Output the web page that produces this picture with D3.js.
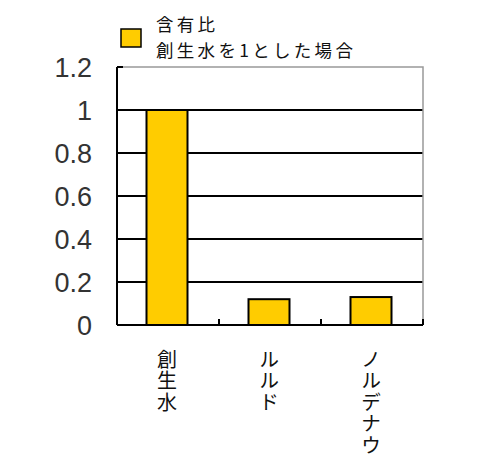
<!DOCTYPE html>
<html>
<head>
<meta charset="utf-8">
<script src="https://cdnjs.cloudflare.com/ajax/libs/d3/7.8.5/d3.min.js"></script>
<style>
  body { margin: 0; background: #fff; }
  svg { display: block; }
</style>
</head>
<body>
<svg width="500" height="473"></svg>
<script>
// data
var categories = ["創生水", "ルルド", "ノルデナウ"];
var values = [1, 0.12, 0.13];
var yTicks = [0, 0.2, 0.4, 0.6, 0.8, 1, 1.2];
var legendLines = ["含有比", "創生水を1とした場合"];

var svg = d3.select("svg");
var plotL = 117, plotR = 423, plotT = 67, plotB = 325;

var x = d3.scaleBand().domain(categories).range([plotL, plotR]).paddingInner(0).paddingOuter(0);
var y = d3.scaleLinear().domain([0, 1.2]).range([plotB, plotT]);

var font = "'Noto Sans CJK JP', 'Liberation Sans', sans-serif";

// gridlines
svg.selectAll("line.grid").data(yTicks.filter(function(d){ return d > 0 && d < 1.2; })).enter()
  .append("line").attr("class","grid")
  .attr("x1", plotL).attr("x2", plotR)
  .attr("y1", function(d){ return y(d); }).attr("y2", function(d){ return y(d); })
  .attr("stroke", "#000").attr("stroke-width", 2);

// gray frame top and right
svg.append("path")
  .attr("d", "M" + plotL + "," + plotT + "H" + plotR + "V" + plotB)
  .attr("fill", "none").attr("stroke", "#999").attr("stroke-width", 1.5);

// bars
var bw = 41;
svg.selectAll("rect.bar").data(values).enter()
  .append("rect").attr("class","bar")
  .attr("x", function(d,i){ return x(categories[i]) + x.bandwidth()/2 - bw/2 - 1; })
  .attr("y", function(d){ return y(d); })
  .attr("width", bw)
  .attr("height", function(d){ return plotB - y(d); })
  .attr("fill", "#FFCC00").attr("stroke", "#000").attr("stroke-width", 2);

// left axis
svg.append("line").attr("x1", plotL).attr("x2", plotL).attr("y1", plotT).attr("y2", plotB)
  .attr("stroke", "#000").attr("stroke-width", 2);
svg.append("line").attr("x1", plotL).attr("x2", plotL + 6).attr("y1", plotT).attr("y2", plotT)
  .attr("stroke", "#000").attr("stroke-width", 2);

// x axis with ticks at band edges
svg.append("line").attr("x1", plotL).attr("x2", plotR).attr("y1", plotB).attr("y2", plotB)
  .attr("stroke", "#000").attr("stroke-width", 2);
svg.selectAll("line.xtick").data(categories).enter()
  .append("line").attr("class","xtick")
  .attr("x1", function(d){ return x(d) + x.bandwidth(); })
  .attr("x2", function(d){ return x(d) + x.bandwidth(); })
  .attr("y1", plotB - 6).attr("y2", plotB)
  .attr("stroke", "#000").attr("stroke-width", 2);

// y tick labels
svg.selectAll("text.ylab").data(yTicks).enter()
  .append("text").attr("class","ylab")
  .attr("x", 92)
  .attr("y", function(d){ return y(d) + 10; })
  .attr("text-anchor", "end")
  .attr("font-family", "'Liberation Sans', sans-serif")
  .attr("font-size", 27)
  .attr("fill", "#333")
  .text(function(d){ return d; });

// x labels, written vertically
svg.selectAll("text.xlab").data(categories).enter()
  .append("text").attr("class","xlab")
  .attr("x", function(d){ return x(d) + x.bandwidth()/2 - 1; })
  .attr("y", 349)
  .attr("writing-mode", "vertical-rl")
  .attr("font-family", font).attr("font-size", 20)
  .style("letter-spacing", "1.5px")
  .attr("fill", "#111")
  .text(function(d){ return d; });

// legend
svg.append("rect").attr("x", 121).attr("y", 29).attr("width", 20).attr("height", 18)
  .attr("fill", "#FFCC00").attr("stroke", "#000").attr("stroke-width", 1.5);
svg.selectAll("text.leg").data(legendLines).enter()
  .append("text").attr("class","leg")
  .attr("x", 156)
  .attr("y", function(d,i){ return 31 + i * 25.5; })
  .attr("font-family", font).attr("font-size", 17.5)
  .attr("letter-spacing", 3.3)
  .attr("fill", "#111")
  .text(function(d){ return d; });
</script>
</body>
</html>
